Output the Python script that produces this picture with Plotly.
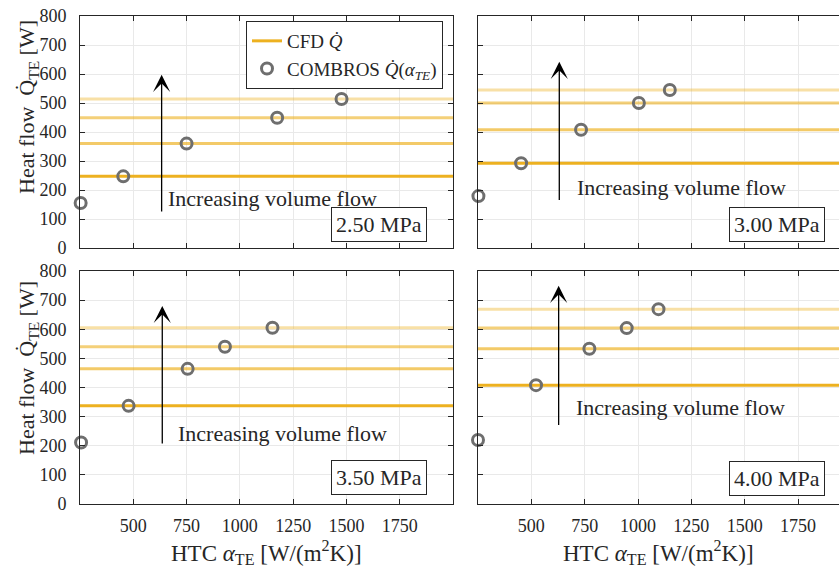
import plotly.graph_objects as go

# ---------------- data ----------------
pressures = ["2.50 MPa", "3.00 MPa", "3.50 MPa", "4.00 MPa"]

cfd_q_250 = [247, 360, 449, 514]
cfd_q_300 = [292, 408, 500, 545]
cfd_q_350 = [337, 464, 540, 605]
cfd_q_400 = [408, 533, 604, 669]

htc_250 = [253, 453, 750, 1175, 1477]
htc_300 = [252, 452, 733, 1004, 1149]
htc_350 = [255, 478, 755, 930, 1153]
htc_400 = [250, 522, 772, 947, 1096]

combros_q_250 = [155, 247, 360, 449, 514]
combros_q_300 = [179, 292, 408, 500, 545]
combros_q_350 = [211, 337, 464, 540, 605]
combros_q_400 = [220, 408, 533, 604, 669]

x_ticks = [500, 750, 1000, 1250, 1500, 1750]
y_ticks = [0, 100, 200, 300, 400, 500, 600, 700, 800]

cfd_all = [cfd_q_250, cfd_q_300, cfd_q_350, cfd_q_400]
htc_all = [htc_250, htc_300, htc_350, htc_400]
comb_all = [combros_q_250, combros_q_300, combros_q_350, combros_q_400]

# arrow (x, y_tail, y_tip) and text position (x, y) per panel
arrows = [(633, 121, 597), (631, 160, 642), (636, 203, 680), (628, 266, 749)]
texts = [(653, 172), (703, 207), (700, 243), (700, 331)]
box_y = [20, 22, 30, 26]

X_MIN = 250
X_MAX_L = 2000
X_MAX_R = 1942

FONT = "Liberation Serif, Times New Roman, Times, serif"
ORANGE = "237,177,32"
alphas = [1.0, 0.68, 0.6, 0.4]
GRAY = "#6E6E6E"
AX = "#262626"

fig = go.Figure()

for i in range(4):
    xa = "x" if i == 0 else f"x{i+1}"
    ya = "y" if i == 0 else f"y{i+1}"
    xmax = X_MAX_L if i % 2 == 0 else X_MAX_R
    for j, v in enumerate(cfd_all[i]):
        fig.add_trace(go.Scatter(
            x=[X_MIN, xmax], y=[v, v], mode="lines",
            line=dict(color=f"rgba({ORANGE},{alphas[j]})", width=3),
            name="CFD <i>Q̇</i>", showlegend=(i == 0 and j == 0),
            xaxis=xa, yaxis=ya, hoverinfo="skip"))
    fig.add_trace(go.Scatter(
        x=htc_all[i], y=comb_all[i], mode="markers",
        marker=dict(size=11, color="rgba(0,0,0,0)", symbol="circle",
                    line=dict(color=GRAY, width=3)),
        name="COMBROS <i>Q̇</i>(<i>α</i><sub><i>TE</i></sub>)",
        showlegend=(i == 0), cliponaxis=False, xaxis=xa, yaxis=ya))

# ---------------- layout ----------------
W, H = 839, 571
ml, mr, mt, mb = 80, 0, 16, 67
pw = W - ml - mr
ph = H - mt - mb
BOT = H - mb  # page y of plot-area bottom (504)

dx_l = [0, (453 - ml) / pw]
dx_r = [(478 - ml) / pw, 1]
dy_t = [(BOT - 248) / ph, 1]
dy_b = [0, (BOT - 271) / ph]

def xaxis(dom, rng, anchor, labels):
    return dict(domain=dom, range=rng, anchor=anchor, tickvals=x_ticks,
                showticklabels=labels, ticks="inside", ticklen=5, tickcolor=AX,
                showline=True, linecolor=AX, linewidth=1, mirror="ticks",
                showgrid=True, gridcolor="#E9E9E9", gridwidth=1, zeroline=False,
                ticklabelstandoff=5, ticklabeloverflow="allow",
                tickfont=dict(family=FONT, size=18, color="#262626"))

def yaxis(dom, anchor, labels, mirror):
    return dict(domain=dom, range=[0, 800], anchor=anchor, tickvals=y_ticks,
                showticklabels=labels, ticks="inside", ticklen=5, tickcolor=AX,
                showline=True, linecolor=AX, linewidth=1, mirror=mirror,
                showgrid=True, gridcolor="#E9E9E9", gridwidth=1, zeroline=False,
                ticklabelstandoff=9, ticklabeloverflow="allow",
                tickfont=dict(family=FONT, size=18, color="#262626"))

fig.update_layout(
    width=W, height=H, margin=dict(l=ml, r=mr, t=mt, b=mb, pad=0),
    paper_bgcolor="white", plot_bgcolor="white",
    font=dict(family=FONT, size=18, color="#262626"),
    xaxis=xaxis(dx_l, [X_MIN, X_MAX_L], "y", False),
    xaxis2=xaxis(dx_r, [X_MIN, X_MAX_R], "y2", False),
    xaxis3=xaxis(dx_l, [X_MIN, X_MAX_L], "y3", True),
    xaxis4=xaxis(dx_r, [X_MIN, X_MAX_R], "y4", True),
    yaxis=yaxis(dy_t, "x", True, "ticks"),
    yaxis2=yaxis(dy_t, "x2", False, False),
    yaxis3=yaxis(dy_b, "x3", True, "ticks"),
    yaxis4=yaxis(dy_b, "x4", False, False),
    legend=dict(x=(443 - ml) / pw, y=(BOT - 21) / ph, xanchor="right", yanchor="top",
                bgcolor="white", bordercolor="#262626", borderwidth=1,
                font=dict(family=FONT, size=19, color="#262626"),
                tracegroupgap=0),
    showlegend=True,
)

annots = []
for i in range(4):
    xr = "x" if i == 0 else f"x{i+1}"
    yr = "y" if i == 0 else f"y{i+1}"
    ax_x, y0, y1 = arrows[i]
    annots.append(dict(x=ax_x, y=y1, ax=ax_x, ay=y0, xref=xr, yref=yr, axref=xr, ayref=yr,
                       text="", showarrow=True, arrowhead=3, arrowsize=2.2,
                       arrowwidth=1.3, arrowcolor="black"))
    tx, ty = texts[i]
    annots.append(dict(x=tx, y=ty, xref=xr, yref=yr, text="Increasing volume flow",
                       showarrow=False, xanchor="left", yanchor="middle",
                       font=dict(family=FONT, size=22, color="#262626")))
    annots.append(dict(x=1877, y=box_y[i], xref=xr, yref=yr, text=pressures[i],
                       showarrow=False, xanchor="right", yanchor="bottom",
                       bgcolor="white", bordercolor="#262626", borderwidth=1, borderpad=4,
                       font=dict(family=FONT, size=22, color="#262626")))

for yc in [107, 368]:
    annots.append(dict(x=(28 - ml) / pw, y=(BOT - yc) / ph, xref="paper", yref="paper",
                       text="Heat flow  Q̇<sub>TE</sub> [W]", textangle=-90,
                       showarrow=False, xanchor="center", yanchor="middle",
                       font=dict(family=FONT, size=22, color="#262626")))
for xr in ["x3 domain", "x4 domain"]:
    annots.append(dict(x=0.5, y=(BOT - 552) / ph, xref=xr, yref="paper",
                       text="HTC <i>α</i><sub>TE</sub> [W/(m<sup>2</sup>K)]",
                       showarrow=False, xanchor="center", yanchor="middle",
                       font=dict(family=FONT, size=23, color="#262626")))

fig.update_layout(annotations=annots)
fig.write_html("out.html",
               config={"displayModeBar": False, "staticPlot": True},
               post_script="document.body.style.margin='0';document.body.style.overflow='hidden';")
